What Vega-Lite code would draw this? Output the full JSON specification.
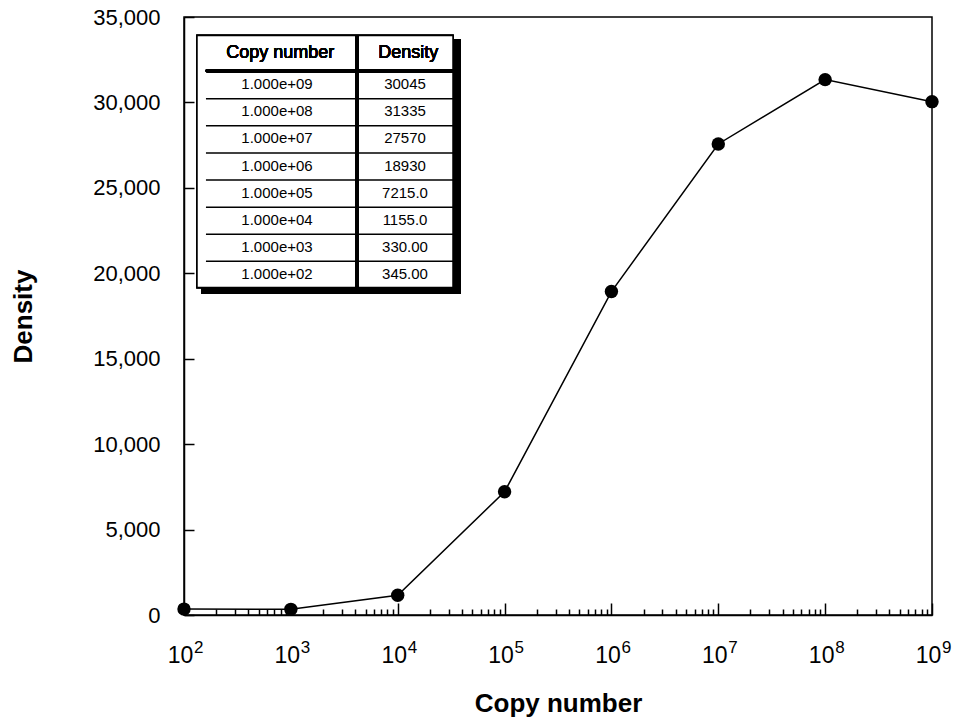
{
  "$schema": "https://vega.github.io/schema/vega-lite/v6.json",
  "width": 748,
  "height": 598,
  "autosize": {"type": "none"},
  "padding": {"left": 184, "top": 17, "right": 25, "bottom": 111},
  "background": "white",
  "config": {
    "view": {"stroke": "black", "strokeWidth": 1.5},
    "font": "Liberation Sans",
    "axis": {
      "grid": false,
      "domainColor": "black",
      "domainWidth": 1.5,
      "tickColor": "black",
      "tickWidth": 1.5,
      "labelColor": "black",
      "labelFont": "Liberation Sans",
      "labelFontSize": 22,
      "labelFlush": false,
      "labelOverlap": false,
      "titleColor": "black",
      "titleFont": "Liberation Sans",
      "titleFontSize": 26,
      "titleFontWeight": "bold"
    }
  },
  "datasets": {
    "series": [
      {"copy": 100, "density": 345, "row": 8, "copyText": "1.000e+02", "densityText": "345.00"},
      {"copy": 1000, "density": 330, "row": 7, "copyText": "1.000e+03", "densityText": "330.00"},
      {"copy": 10000, "density": 1155, "row": 6, "copyText": "1.000e+04", "densityText": "1155.0"},
      {"copy": 100000, "density": 7215, "row": 5, "copyText": "1.000e+05", "densityText": "7215.0"},
      {"copy": 1000000, "density": 18930, "row": 4, "copyText": "1.000e+06", "densityText": "18930"},
      {"copy": 10000000, "density": 27570, "row": 3, "copyText": "1.000e+07", "densityText": "27570"},
      {"copy": 100000000, "density": 31335, "row": 2, "copyText": "1.000e+08", "densityText": "31335"},
      {"copy": 1000000000, "density": 30045, "row": 1, "copyText": "1.000e+09", "densityText": "30045"}
    ]
  },
  "layer": [
    {
      "data": {"name": "series"},
      "encoding": {
        "x": {
          "field": "copy",
          "type": "quantitative",
          "scale": {"type": "log", "domain": [100, 1000000000], "nice": false},
          "axis": {
            "title": "Copy number",
            "titlePadding": 17,
            "values": [100,200,300,400,500,600,700,800,900,1000,2000,3000,4000,5000,6000,7000,8000,9000,10000,20000,30000,40000,50000,60000,70000,80000,90000,100000,200000,300000,400000,500000,600000,700000,800000,900000,1000000,2000000,3000000,4000000,5000000,6000000,7000000,8000000,9000000,10000000,20000000,30000000,40000000,50000000,60000000,70000000,80000000,90000000,100000000,200000000,300000000,400000000,500000000,600000000,700000000,800000000,900000000,1000000000],
            "tickSize": {"condition": {"test": "abs(log(datum.value)/LN10 - round(log(datum.value)/LN10)) < 0.001", "value": -12}, "value": -6},
            "labelPadding": 41,
            "labelFontSize": 23,
            "labelAlign": "center",
            "labelOffset": -4,
            "labelExpr": "abs(log(datum.value)/LN10 - round(log(datum.value)/LN10)) < 0.001 ? '10' : ''"
          }
        },
        "y": {
          "field": "density",
          "type": "quantitative",
          "scale": {"domain": [0, 35000], "nice": false},
          "axis": {
            "title": "Density",
            "titlePadding": 56,
            "values": [0,5000,10000,15000,20000,25000,30000,35000],
            "labelExpr": "format(datum.value, ',d')",
            "tickSize": -10,
            "labelPadding": 34
          }
        }
      },
      "layer": [
        {"mark": {"type": "line", "color": "black", "strokeWidth": 1.5, "clip": false}},
        {"mark": {"type": "point", "filled": true, "color": "black", "opacity": 1, "size": 180, "clip": false}},
        {
          "mark": {"type": "text", "font": "Liberation Sans", "fontSize": 17, "color": "black", "align": "left", "baseline": "alphabetic", "dx": 10, "dy": 38, "clip": false,
                   "text": {"expr": "format(log(datum.copy)/LN10, '.0f')"}},
          "encoding": {
            "y": {"datum": 0, "type": "quantitative"}
          }
        }
      ]
    },
    {
      "data": {"name": "series"},
      "layer": [
        {
          "mark": {"type": "rect", "color": "black", "xOffset": 4, "x2Offset": 8, "yOffset": 4, "y2Offset": 6},
          "encoding": {
            "x": {"datum": 0, "type": "quantitative", "scale": {"domain": [0, 8], "range": [13, 269]}, "axis": null},
            "x2": {"datum": 8},
            "y": {"datum": -0.8, "type": "quantitative", "scale": {"domain": [-0.8, 8.5], "range": [13, 284]}, "axis": null},
            "y2": {"datum": 8.5}
          }
        },
        {
          "mark": {"type": "rect", "fill": "white", "stroke": "black", "strokeWidth": 1.5},
          "encoding": {
            "x": {"datum": 0, "type": "quantitative"},
            "x2": {"datum": 8},
            "y": {"datum": -0.8, "type": "quantitative"},
            "y2": {"datum": 8.5}
          }
        },
        {
          "mark": {"type": "rule", "color": "black", "strokeWidth": 1.5, "yOffset": 14.57},
          "encoding": {
            "x": {"datum": 0.28, "type": "quantitative"},
            "x2": {"datum": 8},
            "y": {"field": "row", "type": "quantitative"}
          }
        },
        {
          "mark": {"type": "rule", "color": "black", "strokeWidth": 3.5, "strokeCap": "round"},
          "encoding": {
            "x": {"datum": 0.32, "type": "quantitative"},
            "x2": {"datum": 8},
            "y": {"datum": 0.5, "type": "quantitative"}
          }
        },
        {
          "mark": {"type": "rule", "color": "black", "strokeWidth": 3},
          "encoding": {
            "x": {"datum": 5, "type": "quantitative"},
            "y": {"datum": -0.8, "type": "quantitative"},
            "y2": {"datum": 8.5}
          }
        },
        {
          "mark": {"type": "text", "font": "Liberation Sans", "fontSize": 15, "color": "black", "align": "center", "baseline": "middle"},
          "encoding": {
            "x": {"datum": 2.5, "type": "quantitative"},
            "y": {"field": "row", "type": "quantitative"},
            "text": {"field": "copyText"}
          }
        },
        {
          "mark": {"type": "text", "font": "Liberation Sans", "fontSize": 15, "color": "black", "align": "center", "baseline": "middle"},
          "encoding": {
            "x": {"datum": 6.5, "type": "quantitative"},
            "y": {"field": "row", "type": "quantitative"},
            "text": {"field": "densityText"}
          }
        },
        {
          "mark": {"type": "text", "font": "Liberation Sans", "fontSize": 18, "fontWeight": "normal", "color": "black", "align": "center", "baseline": "middle"},
          "encoding": {
            "x": {"datum": 2.6, "type": "quantitative"},
            "y": {"datum": -0.15, "type": "quantitative"},
            "text": {"value": "Copy number"}
          }
        },
        {
          "mark": {"type": "text", "font": "Liberation Sans", "fontSize": 18, "fontWeight": "normal", "color": "black", "align": "center", "baseline": "middle"},
          "encoding": {
            "x": {"datum": 6.6, "type": "quantitative"},
            "y": {"datum": -0.15, "type": "quantitative"},
            "text": {"value": "Density"}
          }
        }
      ]
    }
  ],
  "resolve": {"scale": {"x": "independent", "y": "independent"}, "axis": {"x": "independent", "y": "independent"}}
}
